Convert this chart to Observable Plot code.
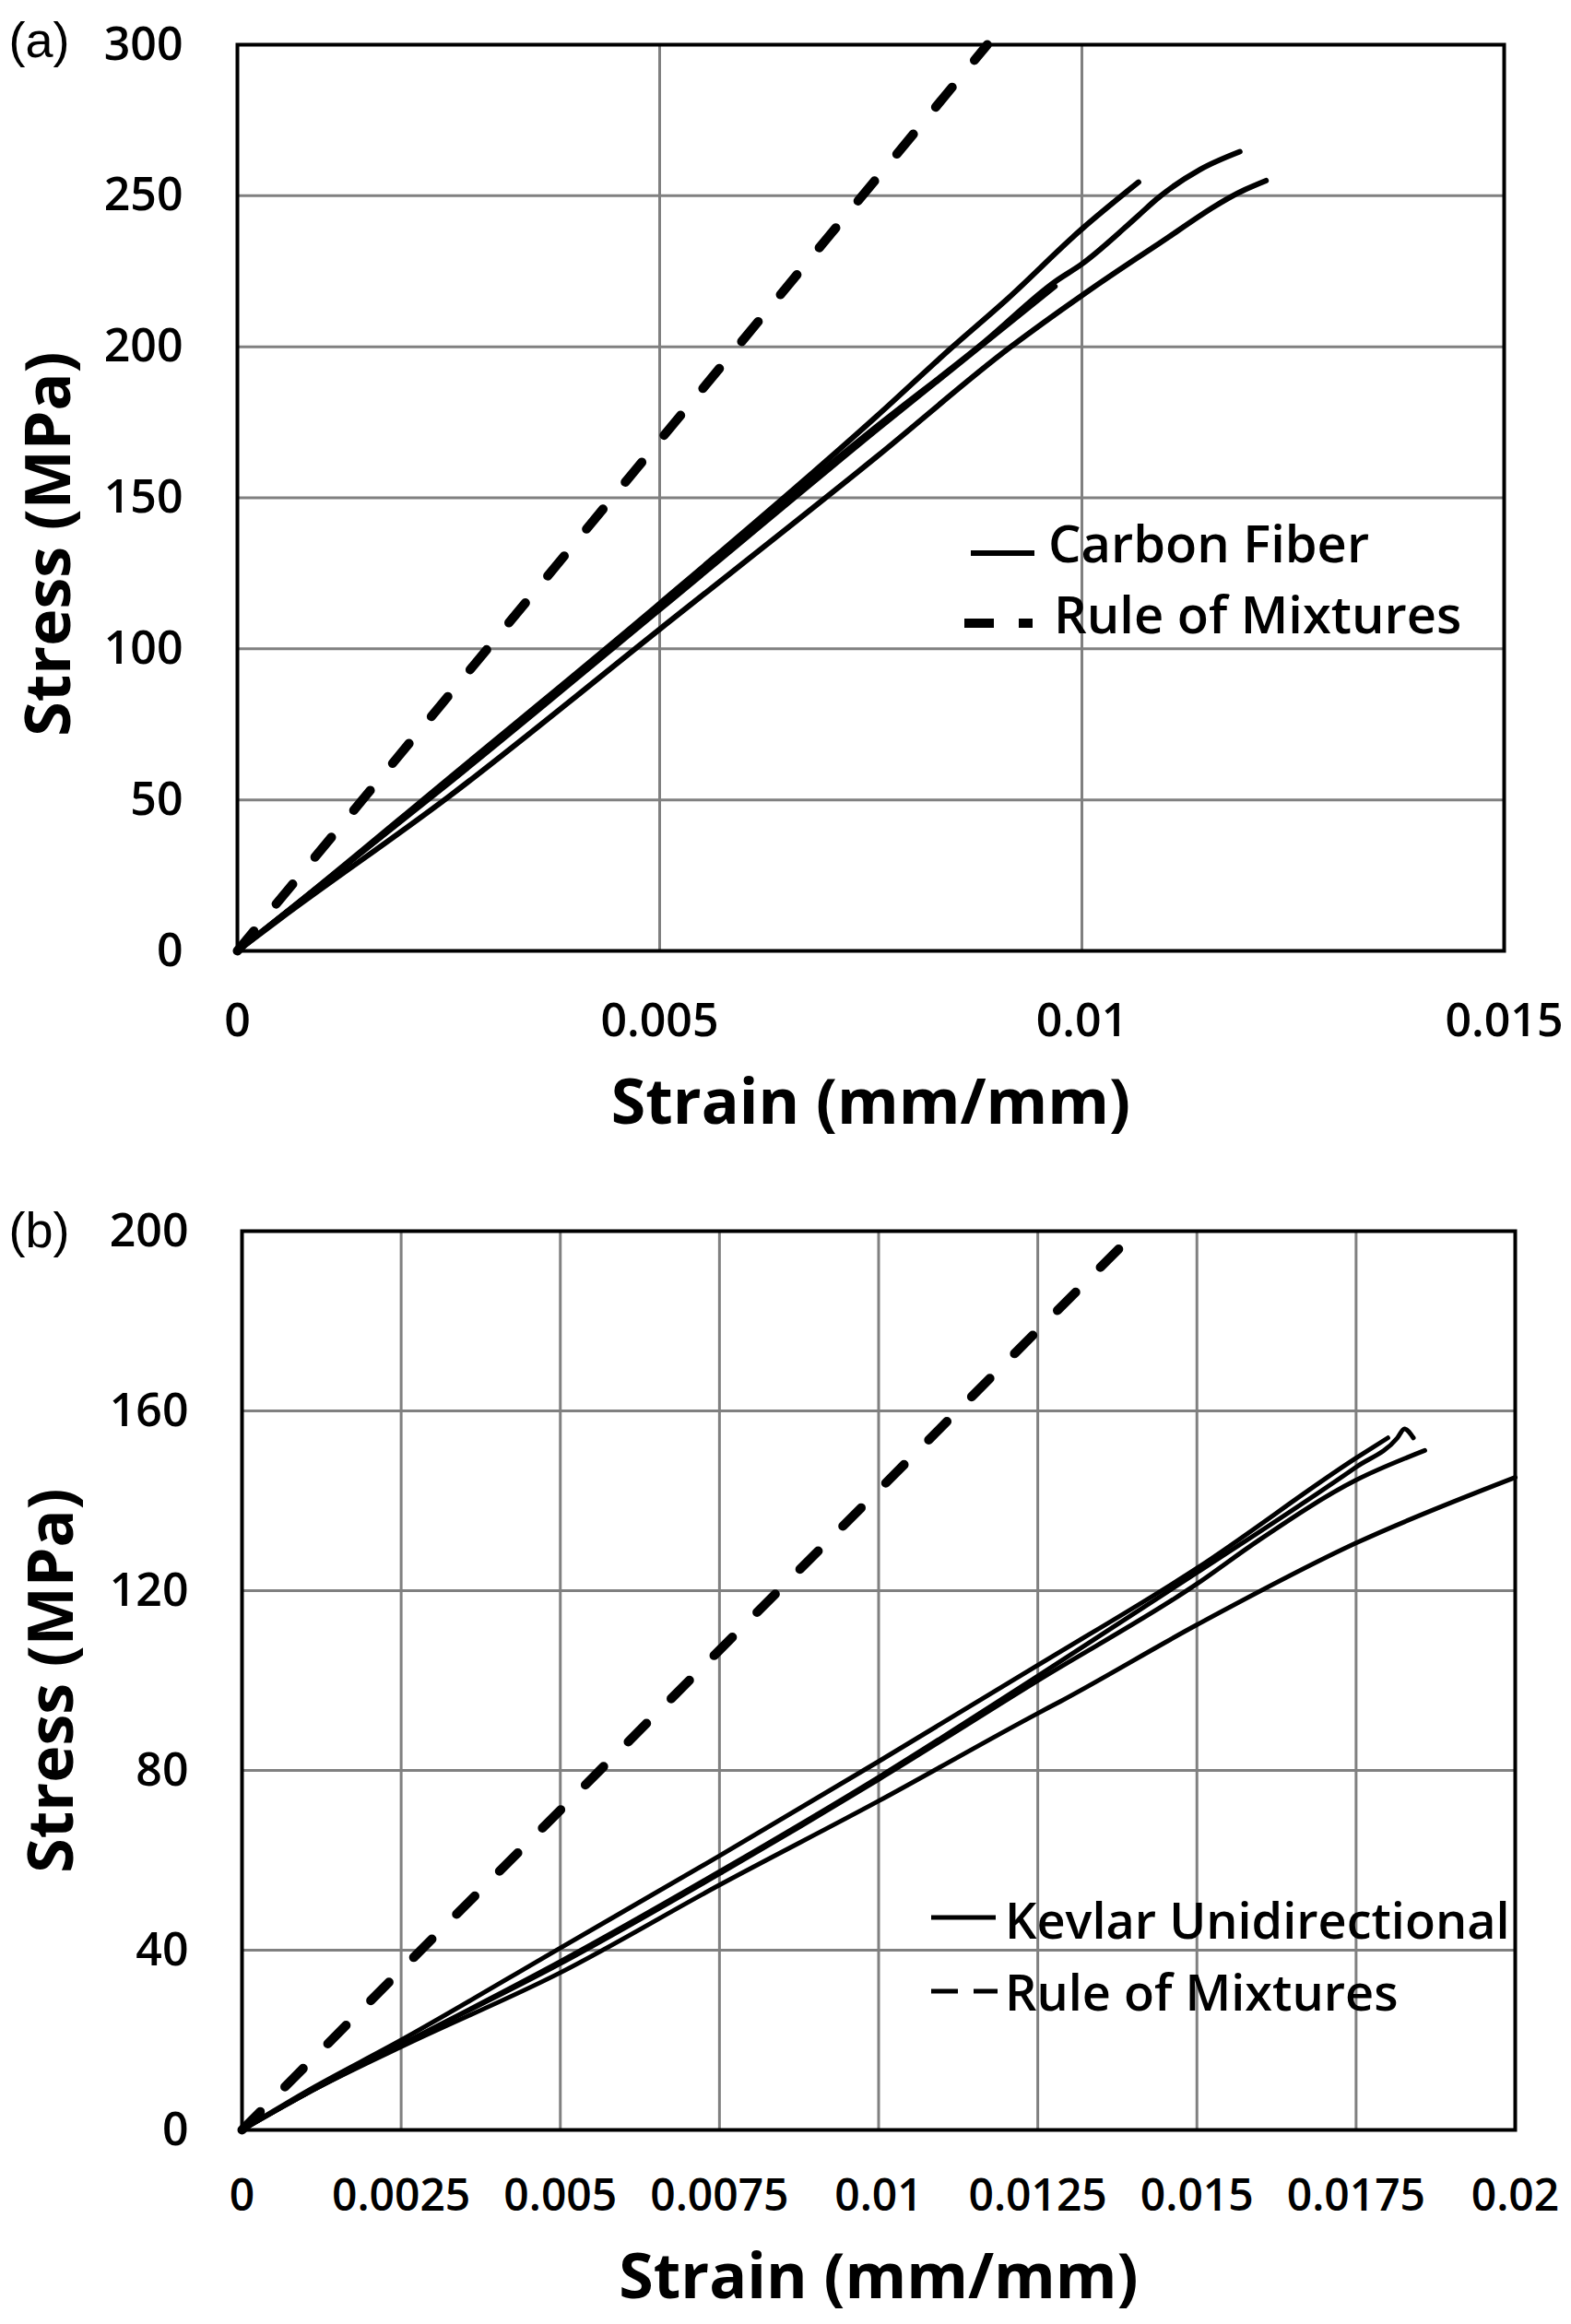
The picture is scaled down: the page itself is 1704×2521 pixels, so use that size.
<!DOCTYPE html>
<html>
<head>
<meta charset="utf-8">
<script src="https://cdn.jsdelivr.net/npm/d3@7"></script>
<script src="https://cdn.jsdelivr.net/npm/@observablehq/plot@0.6"></script>
<style>
  html, body { margin: 0; padding: 0; background: #fff; }
  #page { position: relative; width: 1704px; height: 2521px; overflow: hidden; background: #fff; }
  #page svg { display: block; }
  #legend { position: absolute; left: 0; top: 0; pointer-events: none; }
</style>
</head>
<body>
<div id="page"></div>
<script>
// ---------- Panel (a): carbon fiber ----------
const strainTicksA = [0, 0.005, 0.01, 0.015];
const stressTicksA = [0, 50, 100, 150, 200, 250, 300];

const cf1Strain = [0, 0.0005, 0.0025, 0.005, 0.00757, 0.00845, 0.0091, 0.0100, 0.01067];
const cf1Stress = [0, 11, 57, 115, 177, 199.5, 215.4, 239, 254.5];

const cf2Strain = [0, 0.0005, 0.0025, 0.005, 0.00757, 0.00885, 0.00968, 0.0100, 0.01067, 0.01089, 0.0114, 0.01187];
const cf2Stress = [0, 11, 56, 114, 173.6, 201.7, 221.5, 227.4, 243.5, 249, 258.7, 264.6];

const cf3Strain = [0, 0.0005, 0.0025, 0.005, 0.00757, 0.00968];
const cf3Stress = [0, 11, 55.5, 113, 172.5, 220];

const cf4Strain = [0, 0.0005, 0.0025, 0.005, 0.00757, 0.00914, 0.0100, 0.01085, 0.01193, 0.01218];
const cf4Stress = [0, 10.5, 51, 106.5, 163.6, 199.6, 217, 233, 252, 255];

const romAStrain = [0, 0.00888];
const romAStress = [0, 300];

// ---------- Panel (b): Kevlar ----------
const strainTicksB = [0, 0.0025, 0.005, 0.0075, 0.01, 0.0125, 0.015, 0.0175, 0.02];
const stressTicksB = [0, 40, 80, 120, 160, 200];

const kv1Strain = [0, 0.001, 0.0025, 0.005, 0.0075, 0.01, 0.0125, 0.01286, 0.015, 0.0175, 0.02];
const kv1Stress = [0, 8, 18.5, 35, 54.5, 73.2, 92.7, 95.4, 112.4, 130.6, 145.2];

const kv2Strain = [0, 0.001, 0.0025, 0.005, 0.0075, 0.01, 0.0125, 0.015, 0.0175, 0.018];
const kv2Stress = [0, 8.5, 20, 40.5, 61, 82, 103.4, 125, 149.5, 154];

const kv3Strain = [0, 0.001, 0.0025, 0.005, 0.0075, 0.01, 0.0125, 0.015, 0.0175, 0.01815, 0.01826, 0.0184];
const kv3Stress = [0, 8, 19, 37.5, 57.5, 78.5, 101, 124, 147.5, 154, 156, 154];

const kv4Strain = [0, 0.001, 0.0025, 0.005, 0.0075, 0.01, 0.0125, 0.015, 0.01595, 0.0175, 0.01858];
const kv4Stress = [0, 8, 19, 37, 57, 78, 100, 121.5, 131, 144.6, 151.2];

const romBStrain = [0, 0.01405];
const romBStress = [0, 200];

// ---------- helpers ----------
function rows(id, xs, ys) { return xs.map((x, i) => ({id, strain: x, stress: ys[i]})); }
const fmt = d => String(d);
const GRID = {stroke: "#808080", strokeWidth: 3, strokeOpacity: 1};
const TICKFONT = {fontSize: 50, fontWeight: 600, fontFamily: "Open Sans"};

const specimensA = [
  ...rows("a1", cf1Strain, cf1Stress),
  ...rows("a2", cf2Strain, cf2Stress),
  ...rows("a3", cf3Strain, cf3Stress),
  ...rows("a4", cf4Strain, cf4Stress)
];
const romA = rows("romA", romAStrain, romAStress);

const specimensB = [
  ...rows("b1", kv1Strain, kv1Stress),
  ...rows("b2", kv2Strain, kv2Stress),
  ...rows("b3", kv3Strain, kv3Stress),
  ...rows("b4", kv4Strain, kv4Stress)
];
const romB = rows("romB", romBStrain, romBStress);

const page = document.getElementById("page");

const plotA = Plot.plot({
  width: 1704, height: 1280,
  marginLeft: 257, marginRight: 73, marginTop: 48, marginBottom: 249,
  x: {domain: [0, 0.015]},
  y: {domain: [0, 300]},
  style: {fontFamily: "Open Sans", fontSize: "50px", fontWeight: 600, color: "#000", background: "#fff", overflow: "visible"},
  marks: [
    Plot.gridX(strainTicksA, GRID),
    Plot.gridY(stressTicksA, GRID),
    Plot.axisX(strainTicksA, {tickSize: 0, tickPadding: 57, tickFormat: fmt, label: null, ...TICKFONT}),
    Plot.axisY(stressTicksA, {tickSize: 0, tickPadding: 59, tickFormat: fmt, label: null, ...TICKFONT}),
    Plot.line(specimensA, {x: "strain", y: "stress", z: "id", stroke: "#000", strokeWidth: 6, curve: "monotone-x", strokeLinejoin: "round", strokeLinecap: "round"}),
    Plot.line(romA, {x: "strain", y: "stress", stroke: "#000", strokeWidth: 10, strokeDasharray: "28 38", strokeLinecap: "round"}),
    Plot.frame({stroke: "#000", strokeWidth: 4}),
    Plot.text(["Strain (mm/mm)"], {frameAnchor: "bottom", dy: 166, lineAnchor: "middle", fontSize: 68, fontWeight: "bold", fontFamily: "Open Sans"}),
    Plot.text(["Stress (MPa)"], {frameAnchor: "left", dx: -203, dy: 50, rotate: -90, textAnchor: "middle", lineAnchor: "middle", fontSize: 68, fontWeight: "bold", fontFamily: "Open Sans"}),
    Plot.text(["(a)"], {frameAnchor: "top-left", dx: -248, dy: -4, textAnchor: "start", lineAnchor: "middle", fontSize: 54, fontWeight: "normal", fontFamily: "Liberation Sans"})
  ]
});
page.appendChild(plotA);

const plotB = Plot.plot({
  width: 1704, height: 1241,
  marginLeft: 262, marginRight: 61, marginTop: 55, marginBottom: 211,
  x: {domain: [0, 0.02]},
  y: {domain: [0, 200]},
  style: {fontFamily: "Open Sans", fontSize: "48px", fontWeight: 600, color: "#000", background: "#fff", overflow: "visible"},
  marks: [
    Plot.gridX(strainTicksB, GRID),
    Plot.gridY(stressTicksB, GRID),
    Plot.axisX(strainTicksB, {tickSize: 0, tickPadding: 53, tickFormat: fmt, label: null, ...TICKFONT, fontSize: 48}),
    Plot.axisY(stressTicksB, {tickSize: 0, tickPadding: 58, tickFormat: fmt, label: null, ...TICKFONT}),
    Plot.line(specimensB, {x: "strain", y: "stress", z: "id", stroke: "#000", strokeWidth: 5, curve: "monotone-x", strokeLinejoin: "round", strokeLinecap: "round"}),
    Plot.line(romB, {x: "strain", y: "stress", stroke: "#000", strokeWidth: 10, strokeDasharray: "28 38", strokeLinecap: "round"}),
    Plot.frame({stroke: "#000", strokeWidth: 4}),
    Plot.text(["Strain (mm/mm)"], {frameAnchor: "bottom", dy: 161, lineAnchor: "middle", fontSize: 68, fontWeight: "bold", fontFamily: "Open Sans"}),
    Plot.text(["Stress (MPa)"], {frameAnchor: "left", dx: -205, rotate: -90, textAnchor: "middle", lineAnchor: "middle", fontSize: 68, fontWeight: "bold", fontFamily: "Open Sans"}),
    Plot.text(["(b)"], {frameAnchor: "top-left", dx: -253, dy: 0, textAnchor: "start", lineAnchor: "middle", fontSize: 54, fontWeight: "normal", fontFamily: "Liberation Sans"})
  ]
});
page.appendChild(plotB);

// ---------- legends (overlay) ----------
const legendA = [
  {label: "Carbon Fiber", dash: null, width: 6, x1: 1053, x2: 1122, ly: 600, tx: 1137, ty: 588},
  {label: "Rule of Mixtures", dash: "32 27", width: 10, x1: 1046, x2: 1120, ly: 676, tx: 1143, ty: 665}
];
const legendB = [
  {label: "Kevlar Unidirectional", dash: null, width: 5, x1: 1010, x2: 1080, ly: 2080, tx: 1090, ty: 2082},
  {label: "Rule of Mixtures", dash: "29 17", width: 5, x1: 1010, x2: 1082, ly: 2160, tx: 1090, ty: 2160}
];
const NS = "http://www.w3.org/2000/svg";
const lg = document.createElementNS(NS, "svg");
lg.setAttribute("id", "legend");
lg.setAttribute("width", 1704);
lg.setAttribute("height", 2521);
function addLegend(items, fontSize) {
  for (const it of items) {
    const ln = document.createElementNS(NS, "line");
    ln.setAttribute("x1", it.x1); ln.setAttribute("x2", it.x2);
    ln.setAttribute("y1", it.ly); ln.setAttribute("y2", it.ly);
    ln.setAttribute("stroke", "#000");
    ln.setAttribute("stroke-width", it.width);
    if (it.dash) ln.setAttribute("stroke-dasharray", it.dash);
    lg.appendChild(ln);
    const t = document.createElementNS(NS, "text");
    t.setAttribute("x", it.tx); t.setAttribute("y", it.ty);
    t.setAttribute("dominant-baseline", "central");
    t.setAttribute("font-family", "Open Sans");
    t.setAttribute("font-weight", "600");
    t.setAttribute("font-size", fontSize);
    t.setAttribute("fill", "#000");
    t.textContent = it.label;
    lg.appendChild(t);
  }
}
addLegend(legendA, 56);
addLegend(legendB, 54);
page.appendChild(lg);
</script>
</body>
</html>
